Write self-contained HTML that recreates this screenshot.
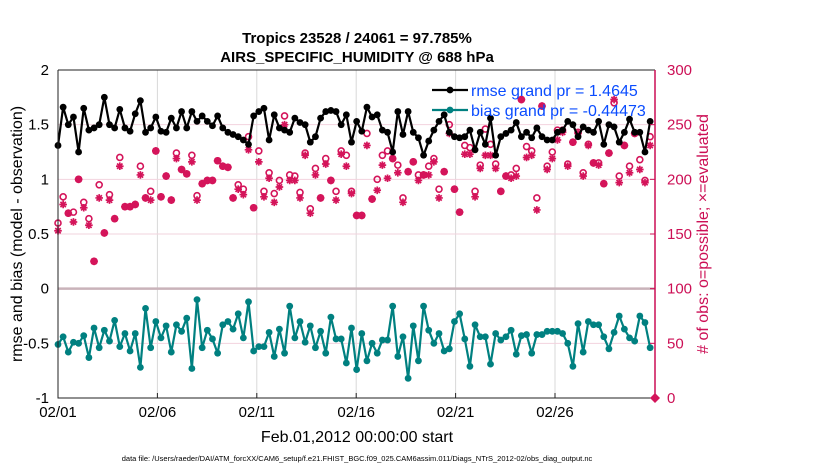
<!DOCTYPE html>
<html><head><meta charset="utf-8"><style>
body{margin:0;background:#fff;}
svg{display:block;font-family:"Liberation Sans",Arial,sans-serif;}
</style></head><body>
<svg id="chart" width="830" height="470" viewBox="0 0 830 470">
<text x="357" y="43" text-anchor="middle" font-size="15" font-weight="bold">Tropics 23528 / 24061 = 97.785%</text>
<text x="357" y="62" text-anchor="middle" font-size="15" font-weight="bold">AIRS_SPECIFIC_HUMIDITY @ 688 hPa</text>
<g id="grid"></g>
<g id="marks"></g>
<g id="axes"></g>
<text transform="translate(22,234) rotate(-90)" text-anchor="middle" font-size="16">rmse and bias (model - observation)</text>
<text transform="translate(708,234) rotate(-90)" text-anchor="middle" font-size="16" fill="#cc0f55"># of obs: o=possible; ×=evaluated</text>
<text x="357" y="442" text-anchor="middle" font-size="16">Feb.01,2012 00:00:00 start</text>
<text x="357" y="461" text-anchor="middle" font-size="7.5">data file: /Users/raeder/DAI/ATM_forcXX/CAM6_setup/f.e21.FHIST_BGC.f09_025.CAM6assim.011/Diags_NTrS_2012-02/obs_diag_output.nc</text>
<g id="legend"></g>
</svg>
<script>
const xTickLabels = ["02/01","02/06","02/11","02/16","02/21","02/26"];
const xTickDays = [0,5,10,15,20,25];
const leftTicks = [2,1.5,1,0.5,0,-0.5,-1];
const leftTickLabels = ["2","1.5","1","0.5","0","-0.5","-1"];
const rightTicks = [300,250,200,150,100,50,0];
const dayStep = 0.259;
const rmseValues = [1.31,1.66,1.5,1.57,1.25,1.65,1.45,1.47,1.5,1.75,1.5,1.47,1.64,1.47,1.44,1.6,1.72,1.43,1.47,1.57,1.44,1.43,1.56,1.47,1.62,1.47,1.62,1.53,1.58,1.53,
1.49,1.58,1.47,1.43,1.41,1.39,1.36,1.32,1.58,1.62,1.65,1.36,1.59,1.47,1.45,1.43,1.56,1.52,1.5,1.34,1.39,1.56,1.62,1.63,1.62,1.5,1.59,1.34,1.53,
1.44,1.66,1.57,1.59,1.45,1.43,1.25,1.62,1.41,1.62,1.43,1.38,1.22,1.35,1.45,1.53,1.59,1.43,1.39,1.38,1.39,1.45,1.27,1.43,1.32,1.56,1.22,1.39,1.42,
1.45,1.52,1.39,1.43,1.38,1.47,1.39,1.36,1.36,1.43,1.45,1.53,1.5,1.39,1.48,1.45,1.43,1.53,1.32,1.5,1.48,1.34,1.43,1.55,1.43,1.43,1.25,1.53];
const biasValues = [-0.51,-0.44,-0.58,-0.49,-0.5,-0.43,-0.63,-0.36,-0.54,-0.38,-0.48,-0.29,-0.53,-0.41,-0.57,-0.41,-0.72,-0.18,-0.54,-0.3,-0.45,-0.34,-0.58,-0.33,-0.39,-0.27,-0.73,-0.1,-0.54,-0.38,
-0.46,-0.59,-0.33,-0.3,-0.37,-0.23,-0.45,-0.12,-0.57,-0.53,-0.53,-0.4,-0.62,-0.37,-0.59,-0.16,-0.45,-0.3,-0.49,-0.34,-0.54,-0.39,-0.59,-0.26,-0.46,-0.46,-0.68,-0.36,-0.74,
-0.41,-0.66,-0.5,-0.59,-0.47,-0.47,-0.16,-0.62,-0.44,-0.82,-0.34,-0.66,-0.16,-0.38,-0.5,-0.41,-0.57,-0.55,-0.3,-0.23,-0.46,-0.71,-0.33,-0.44,-0.44,-0.69,-0.41,-0.47,-0.44,
-0.38,-0.6,-0.43,-0.42,-0.59,-0.42,-0.42,-0.39,-0.39,-0.39,-0.41,-0.5,-0.71,-0.32,-0.58,-0.3,-0.33,-0.33,-0.44,-0.55,-0.4,-0.25,-0.37,-0.45,-0.48,-0.25,-0.31,-0.54];
const evaluatedCounts = [153,177,169,161,200,174,158,125,183,151,181,164,212,175,175,177,204,183,181,226,184,203,181,219,209,205,216,181,196,199,
199,217,212,211,183,191,186,227,174,216,184,201,179,193,250,199,199,183,222,169,204,183,214,199,181,223,212,187,167,
167,231,182,190,213,201,219,206,179,207,216,199,204,204,216,183,207,242,191,170,223,223,184,210,222,222,210,189,203,
201,203,273,220,222,172,267,209,219,236,243,212,234,242,203,231,215,213,196,224,273,197,231,206,242,209,197,231];
const possibleCounts = [160,184,169,170,200,179,164,125,195,151,186,164,220,175,175,177,212,183,189,226,184,203,181,224,209,205,222,185,196,199,
199,217,212,211,183,195,191,239,174,226,189,206,187,199,258,204,203,188,224,173,210,183,219,199,189,226,222,189,167,
167,242,182,200,222,226,219,213,183,207,216,204,204,212,219,191,207,250,191,170,231,229,189,213,246,232,214,189,203,
204,210,273,230,226,183,267,212,225,245,245,214,234,243,206,232,215,215,196,224,270,203,231,212,242,218,199,239];
const legendLabels = ["rmse grand pr = 1.4645","bias grand pr = -0.44473"];

const NS="http://www.w3.org/2000/svg";
const L=58,R=655,T=70,B=398;
const xS=d=>L+d*19.88;
const yL=v=>B-(v+1)/3*(B-T);
const yR=c=>B-c/300*(B-T);
function mk(tag,attrs,parent){const e=document.createElementNS(NS,tag);for(const k in attrs)e.setAttribute(k,attrs[k]);parent.appendChild(e);return e;}
const grid=document.getElementById('grid'),marks=document.getElementById('marks'),axes=document.getElementById('axes'),leg=document.getElementById('legend');
const RED="#d4145a",TEAL="#008080",RAX="#cc0f55";

xTickDays.forEach((d,i)=>{
  const g=mk('line',{x1:xS(d),x2:xS(d),y1:T,y2:B,stroke:"#d8d8d8","stroke-width":1},grid);
  
  
  const t=mk('text',{x:xS(d),y:417,"text-anchor":"middle","font-size":15},axes);
  t.textContent=xTickLabels[i];
  
  
  const tk=mk('line',{x1:xS(d),x2:xS(d),y1:B,y2:B-5,stroke:"#222"},axes);
  
  
});
leftTicks.forEach((v,i)=>{
  if(v!==2&&v!==-1){
    const g=mk('line',{x1:L,x2:R,y1:yL(v),y2:yL(v),stroke:v===0?"#c9b3ba":"#f2d3de","stroke-width":v===0?2.5:1},grid);
    
    
  }
  const t=mk('text',{x:49,y:yL(v)+5,"text-anchor":"end","font-size":15},axes);
  t.textContent=leftTickLabels[i];
  
  
});
rightTicks.forEach(c=>{
  const t=mk('text',{x:667,y:yR(c)+5,"text-anchor":"start","font-size":15,fill:RAX},axes);
  t.textContent=String(c);
  
  
  const tk=mk('line',{x1:R,x2:R-5,y1:yR(c),y2:yR(c),stroke:RAX},axes);
  
  
});
const fr=mk('path',{d:`M${L},${T}H${R}M${L},${T}V${B}H${R}`,fill:"none",stroke:"#222","stroke-width":1},axes);


const ra=mk('line',{x1:R,x2:R,y1:T,y2:B,stroke:RAX,"stroke-width":1.5},axes);


const dm=mk('path',{d:`M${R},${B-5}L${R+5},${B}L${R},${B+5}L${R-5},${B}Z`,fill:RED},axes);



function star(x,y,g){
  let d="";
  for(let k=0;k<4;k++){const a=k*Math.PI/4;const dx=3.8*Math.cos(a),dy=3.8*Math.sin(a);d+=`M${x-dx},${y-dy}L${x+dx},${y+dy}`;}
  return mk('path',{d,stroke:RED,"stroke-width":1.7,fill:"none"},g);
}
possibleCounts.forEach((c,i)=>{
  const e=mk('circle',{cx:xS(i*dayStep),cy:yR(c),r:3,fill:"none",stroke:RED,"stroke-width":1.6},marks);
  
  
});
evaluatedCounts.forEach((c,i)=>{
  const e=star(xS(i*dayStep),yR(c),marks);
  
  
});
function series(vals,color,name){
  const pts=vals.map((v,i)=>[xS(i*dayStep),yL(v)]);
  const pl=mk('polyline',{points:pts.map(p=>p.join(',')).join(' '),fill:"none",stroke:color,"stroke-width":2.2,"stroke-linejoin":"round"},marks);
  
  
  pts.forEach(p=>{
    const c=mk('circle',{cx:p[0],cy:p[1],r:3.4,fill:color},marks);
    
    
  });
}
series(rmseValues,"#000","rmse");
series(biasValues,TEAL,"bias");

[["#000",90],[TEAL,110]].forEach((s,i)=>{
  const l=mk('line',{x1:432,x2:468,y1:s[1],y2:s[1],stroke:s[0],"stroke-width":2.2},leg);
  
  
  const c=mk('circle',{cx:450,cy:s[1],r:3.4,fill:s[0]},leg);
  
  
  const t=mk('text',{x:471,y:s[1]+6,"font-size":16,fill:"#0a4cff"},leg);
  t.textContent=legendLabels[i];
  
  
});
</script>
</body></html>
